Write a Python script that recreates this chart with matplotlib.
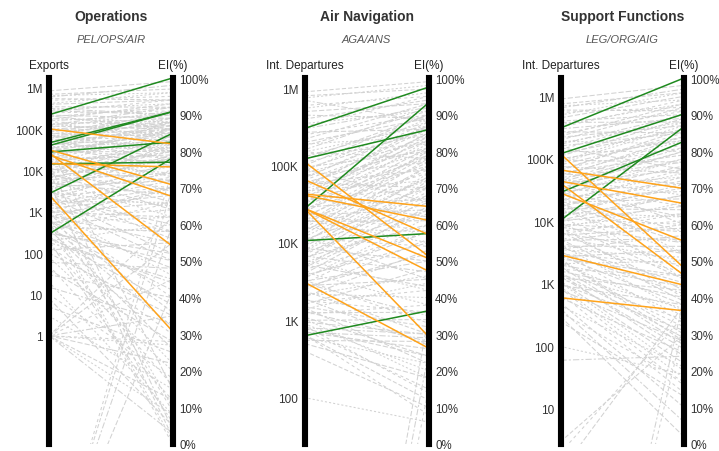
''' Slope charts: traffic volume vs EI(%) for three ICAO areas '''

import matplotlib.pyplot as plt
from matplotlib.ticker import FixedLocator, NullLocator

plt.rcParams['font.family'] = ['Liberation Sans', 'DejaVu Sans']

W, H = 719, 452

# ---- Operations (PEL/OPS/AIR): Exports -> EI(%)
ops_gray_left = [700000, 650000, 600000, 500000, 400000, 350000, 300000, 280000, 250000, 220000,
                 200000, 180000, 160000, 150000, 130000, 120000, 110000, 100000, 95000, 90000,
                 80000, 75000, 70000, 65000, 60000, 55000, 50000, 48000, 45000, 42000,
                 40000, 38000, 35000, 32000, 30000, 28000, 25000, 22000, 20000, 18000,
                 16000, 15000, 14000, 12000, 11000, 10000, 9000, 8000, 7500, 7000,
                 6000, 5500, 5000, 4500, 4000, 3500, 3000, 2800, 2500, 2200,
                 2000, 1800, 1500, 1300, 1200, 1000, 900, 800, 700, 600,
                 500, 450, 400, 350, 300, 250, 200, 180, 150, 120,
                 100, 80, 60, 50, 40, 30, 20, 15, 10, 8,
                 5, 3, 1, 1, 1, 1, 1, 1, 1, 1,
                 1, 1, 0, 0, 0, 0, 3000, 15000, 600, 40000,
                 5000, 800, 200, 1500,
                 850000, 550000, 420000, 320000, 260000, 210000, 170000, 140000, 125000, 105000,
                 85000, 72000, 62000, 52000, 46000, 36000, 33000, 27000, 24000, 21000,
                 19000, 17000, 13000, 11500, 9500, 8500, 6500, 5800, 4800, 4200,
                 3800, 3200, 2600, 2300, 1900, 1600, 1400, 1100, 950, 850,
                 750, 650, 550, 480, 420, 380, 320, 270, 220, 170]
ops_gray_ei = [97, 96, 98, 95, 94, 92, 93, 90, 91, 89,
               92, 88, 90, 87, 89, 86, 91, 88, 85, 87,
               84, 89, 86, 83, 88, 85, 82, 86, 80, 84,
               87, 81, 83, 78, 85, 80, 82, 77, 84, 79,
               81, 74, 86, 78, 72, 80, 76, 83, 70, 78,
               74, 81, 68, 76, 72, 79, 65, 74, 70, 60,
               77, 66, 72, 58, 68, 62, 75, 55, 64, 48,
               70, 58, 42, 66, 52, 38, 60, 45, 30, 55,
               35, 20, 48, 12, 28, 40, 8, 33, 18, 5,
               25, 15, 35, 28, 22, 12, 8, 3, 45, 55,
               62, 27, 60, 75, 42, 70, 10, 4, 0, 15,
               2, 1, 6, 9,
               99, 94, 96, 90, 94, 86, 93, 84, 92, 82,
               90, 80, 91, 78, 89, 76, 88, 73, 86, 71,
               88, 69, 82, 66, 84, 64, 80, 62, 78, 58,
               82, 56, 76, 52, 73, 50, 70, 46, 66, 40,
               70, 36, 62, 32, 58, 26, 50, 22, 44, 16]
ops_green_left = [224000, 46700, 40000, 28000, 14500, 2750, 290]
ops_green_ei = [100, 90.8, 90.8, 82.5, 77.0, 84.9, 78.2]
ops_orange_left = [102000, 32000, 24000, 14800, 27000, 2600]
ops_orange_ei = [82.0, 70.8, 67.6, 75.7, 54.0, 30.8]

# ---- Air Navigation (AGA/ANS): Int. Departures -> EI(%)
ans_gray_left = [800000, 750000, 700000, 600000, 500000, 400000, 350000, 300000, 250000, 200000,
                 180000, 150000, 130000, 110000, 100000, 90000, 80000, 70000, 65000, 60000,
                 55000, 50000, 45000, 40000, 38000, 35000, 32000, 30000, 28000, 25000,
                 22000, 20000, 18000, 16000, 15000, 14000, 12000, 11000, 10000, 9500,
                 9000, 8000, 7500, 7000, 6500, 6000, 5500, 5000, 4500, 4000,
                 3800, 3500, 3200, 3000, 2800, 2500, 2200, 2000, 1800, 1600,
                 1500, 1400, 1300, 1200, 1100, 1000, 900, 800, 750, 700,
                 650, 600, 700, 650, 500, 400, 100, 0, 0, 0,
                 40000, 20000, 60000, 150000, 90000, 12000, 6000, 3000, 25000, 550,
                 900000, 550000, 450000, 320000, 270000, 220000, 190000, 160000, 140000, 120000,
                 95000, 85000, 75000, 68000, 58000, 52000, 47000, 42000, 36000, 33000,
                 29000, 26000, 23000, 21000, 19000, 17000, 15500, 13000, 11500, 10500,
                 8500, 7800, 6800, 6200, 5200, 4800, 4200, 3600, 3300, 2700,
                 2400, 2100, 1900, 1700, 1450, 1250, 1050, 950, 850, 780]
ans_gray_ei = [97, 98, 88, 95, 93, 94, 91, 92, 90, 89,
               91, 87, 88, 85, 90, 86, 83, 87, 84, 81,
               86, 80, 83, 78, 85, 76, 82, 79, 74, 81,
               77, 72, 80, 75, 70, 78, 73, 68, 76, 66,
               71, 74, 64, 69, 60, 72, 63, 67, 58, 65,
               55, 62, 50, 60, 45, 56, 40, 53, 36, 48,
               32, 44, 28, 38, 24, 34, 20, 30, 15, 26,
               12, 22, 29, 8, 18, 10, 6, 25, 15, 35,
               62, 55, 70, 78, 66, 45, 42, 35, 58, 28,
               99, 96, 89, 95, 86, 93, 84, 92, 82, 90,
               80, 89, 77, 88, 75, 87, 72, 85, 70, 84,
               67, 83, 64, 80, 61, 79, 58, 76, 54, 73,
               50, 70, 47, 68, 43, 64, 38, 58, 33, 52,
               30, 46, 27, 42, 22, 36, 18, 30, 14, 24]
ans_green_left = [302000, 122000, 27600, 10700, 630]
ans_green_ei = [97.5, 85.9, 93.2, 57.5, 36.4]
ans_orange_left = [112000, 66000, 43000, 41500, 28000, 28000, 28000, 3100]
ans_orange_ei = [51.3, 57.2, 64.9, 61.1, 50.7, 47.2, 29.4, 26.2]

# ---- Support Functions (LEG/ORG/AIG): Int. Departures -> EI(%)
sup_gray_left = [750000, 700000, 650000, 550000, 450000, 400000, 350000, 300000, 250000, 220000,
                 200000, 180000, 160000, 140000, 120000, 100000, 90000, 80000, 70000, 65000,
                 60000, 55000, 50000, 45000, 40000, 38000, 35000, 32000, 30000, 28000,
                 25000, 22000, 20000, 18000, 16000, 15000, 14000, 12000, 11000, 10000,
                 9000, 8500, 8000, 7000, 6500, 6000, 5500, 5000, 4500, 4000,
                 3800, 3500, 3200, 3000, 2800, 2500, 2200, 2000, 1800, 1600,
                 1500, 1400, 1300, 1200, 1100, 1000, 900, 800, 700, 600,
                 500, 450, 400, 350, 300, 250, 100, 60, 2, 1,
                 3, 20000, 50000, 8000, 150000, 2500, 30000, 0, 0,
                 900000, 600000, 500000, 380000, 320000, 270000, 230000, 190000, 170000, 130000,
                 110000, 95000, 85000, 75000, 68000, 58000, 52000, 47000, 42000, 36000,
                 34000, 29000, 26000, 23000, 21000, 19000, 17000, 15500, 13000, 11500,
                 10500, 9500, 7800, 6800, 6200, 5200, 4800, 4200, 3600, 3300,
                 2700, 2400, 2100, 1900, 1700, 1450, 1250, 1050, 950, 850]
sup_gray_ei = [96, 94, 97, 92, 95, 90, 93, 89, 91, 87,
               92, 88, 85, 90, 86, 83, 88, 84, 81, 86,
               79, 83, 77, 82, 75, 80, 73, 78, 71, 76,
               69, 74, 67, 72, 64, 70, 62, 68, 60, 65,
               58, 63, 55, 61, 52, 59, 50, 56, 47, 54,
               44, 51, 41, 49, 38, 46, 35, 43, 32, 40,
               29, 37, 26, 34, 22, 31, 18, 28, 14, 25,
               10, 21, 6, 17, 2, 13, 19, 24, 35, 38,
               30, 45, 60, 40, 75, 28, 52, 40, 33,
               98, 91, 96, 88, 94, 85, 93, 82, 90, 80,
               89, 77, 87, 74, 85, 71, 84, 68, 81, 65,
               80, 62, 78, 58, 75, 55, 73, 52, 71, 48,
               68, 45, 66, 42, 63, 39, 60, 36, 57, 33,
               53, 30, 50, 27, 46, 24, 42, 20, 38, 16]
sup_green_left = [309000, 120000, 28800, 10300]
sup_green_ei = [100, 90.2, 82.7, 86.7]
sup_orange_left = [120000, 66000, 43700, 40600, 28300, 2900, 600]
sup_orange_ei = [48.1, 69.8, 65.7, 46.1, 55.4, 43.4, 36.4]

titles = ['Operations', 'Air Navigation', 'Support Functions']
subtitles = ['PEL/OPS/AIR', 'AGA/ANS', 'LEG/ORG/AIG']
left_labels = ['Exports', 'Int. Departures', 'Int. Departures']

tick_vals = [1, 10, 100, 1000, 10000, 100000, 1000000]
tick_names = ['1', '10', '100', '1K', '10K', '100K', '1M']
pct_vals = list(range(0, 101, 10))

panels = [
    dict(x0=49, x1=172.5, lo=-2.62, hi=6.24,
         gray=(ops_gray_left, ops_gray_ei), green=(ops_green_left, ops_green_ei),
         orange=(ops_orange_left, ops_orange_ei)),
    dict(x0=304.5, x1=428.5, lo=1.40, hi=6.133,
         gray=(ans_gray_left, ans_gray_ei), green=(ans_green_left, ans_green_ei),
         orange=(ans_orange_left, ans_orange_ei)),
    dict(x0=560.5, x1=684, lo=0.44, hi=6.29,
         gray=(sup_gray_left, sup_gray_ei), green=(sup_green_left, sup_green_ei),
         orange=(sup_orange_left, sup_orange_ei)),
]

dashes = [(0, (4, 2)), (0, (2, 2)), (0, (6, 2, 2, 2)), (0, (3, 3)), (0, (5, 2))]

fig = plt.figure(figsize=(W / 100, H / 100), dpi=100)

top_px, bot_px = 79, 445

for k, pn in enumerate(panels):
    ax = fig.add_axes([pn['x0'] / W, 1 - bot_px / H, (pn['x1'] - pn['x0']) / W,
                       (bot_px - top_px) / H])
    ax.set_yscale('log')
    ax.set_ylim(10 ** pn['lo'], 10 ** pn['hi'])
    ax.set_xlim(0, 1)
    ax2 = ax.twinx()
    ax2.set_ylim(0, 100)

    ticks = [(t, n) for t, n in zip(tick_vals, tick_names) if 10 ** pn['lo'] <= t <= 10 ** pn['hi']]
    ax.yaxis.set_major_locator(FixedLocator([t for t, _ in ticks]))
    ax.yaxis.set_minor_locator(NullLocator())
    ax.set_yticklabels([n for _, n in ticks])
    ax.set_xticks([])
    ax.tick_params(axis='y', length=0, pad=4.5, labelsize=8.5, labelcolor='#333333')

    ax2.set_yticks(pct_vals)
    ax2.set_yticklabels([f'{p}%' for p in pct_vals])
    ax2.tick_params(axis='y', length=0, pad=4.8, labelsize=8.3, labelcolor='#333333')

    for s in ['top', 'bottom']:
        ax.spines[s].set_visible(False)
    for s in ax2.spines.values():
        s.set_visible(False)
    for s in ['left', 'right']:
        ax.spines[s].set_linewidth(4.4)
        ax.spines[s].set_color('black')
        ax.spines[s].set_zorder(5)

    # right-axis percentages are mapped into the log axis through the two transforms
    gl, ge = pn['gray']
    for i, (v, p) in enumerate(zip(gl, ge)):
        v = v if v > 0 else 1e-6  # zero volume falls off the bottom of the log axis
        yr = ax.transData.inverted().transform(ax2.transData.transform((1, p)))[1]
        ax.plot([0, 1], [v, yr], color='#d2d2d2', lw=0.75, ls=dashes[i % len(dashes)], zorder=1)

    for (ll, le), col in [(pn['green'], '#1f8a1f'), (pn['orange'], '#ffa31a')]:
        for v, p in zip(ll, le):
            yr = ax.transData.inverted().transform(ax2.transData.transform((1, p)))[1]
            ax.plot([0, 1], [v, yr], color=col, lw=1.1, zorder=3)

    ax.annotate(left_labels[k], xy=(0, 1), xycoords='axes fraction', xytext=(0, 9.5),
                textcoords='offset points', ha='center', va='center', fontsize=8.5, color='#222222')
    ax.annotate('EI(%)', xy=(1, 1), xycoords='axes fraction', xytext=(0, 9.5),
                textcoords='offset points', ha='center', va='center', fontsize=8.5, color='#222222')

    xc = (pn['x0'] + pn['x1']) / 2 / W
    fig.text(xc, 1 - 17 / H, titles[k], ha='center', va='center', fontsize=10,
             fontweight='bold', color='#333333')
    fig.text(xc, 1 - 40 / H, subtitles[k], ha='center', va='center', fontsize=8,
             style='italic', color='#555555')

fig.savefig('out.png', dpi=100)
